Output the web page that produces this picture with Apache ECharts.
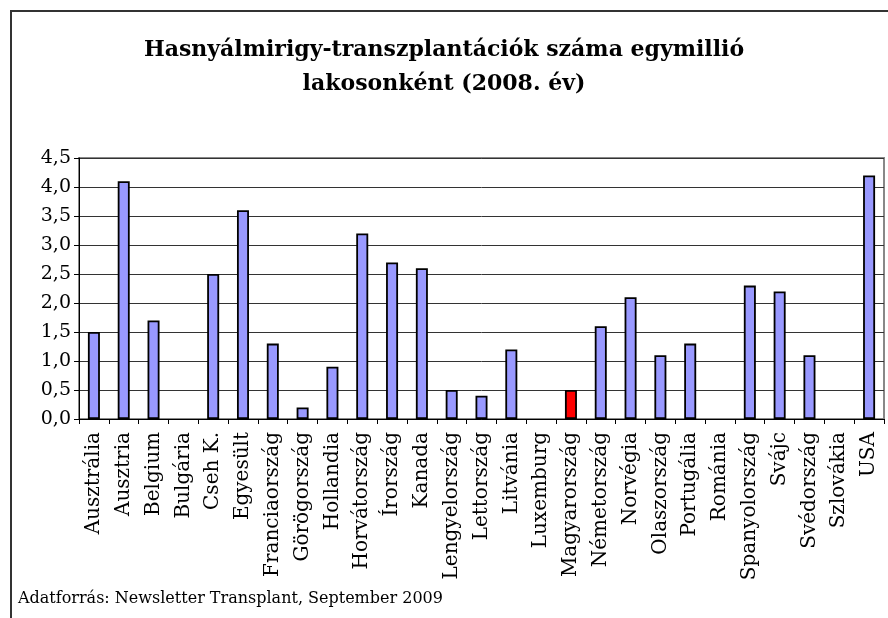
<!DOCTYPE html>
<html>
<head>
<meta charset="utf-8">
<script src="https://cdn.jsdelivr.net/npm/echarts@6/dist/echarts.min.js"></script>
<style>
  html, body { margin: 0; padding: 0; background: #fff; }
  #main { width: 888px; height: 618px; }
</style>
</head>
<body>
<div id="main"></div>
<script>
// orszagok
var orszagok = ['Ausztrália', 'Ausztria', 'Belgium', 'Bulgária', 'Cseh K.', 'Egyesült',
    'Franciaország', 'Görögország', 'Hollandia', 'Horvátország', 'Írország', 'Kanada',
    'Lengyelország', 'Lettország', 'Litvánia', 'Luxemburg', 'Magyarország', 'Németország',
    'Norvégia', 'Olaszország', 'Portugália', 'Románia', 'Spanyolország', 'Svájc',
    'Svédország', 'Szlovákia', 'USA'];

// transzplantaciok / millio lakos
var ertekek = [1.5, 4.1, 1.7, 0, 2.5, 3.6,
    1.3, 0.2, 0.9, 3.2, 2.7, 2.6,
    0.5, 0.4, 1.2, 0, 0.5, 1.6,
    2.1, 1.1, 1.3, 0, 2.3, 2.2,
    1.1, 0, 4.2];

var kiemelt = 'Magyarország';

var myChart = echarts.init(document.getElementById('main'));

var adatok = [];
for (var i = 0; i < orszagok.length; i++) {
    adatok.push({
        value: ertekek[i],
        itemStyle: {
            color: orszagok[i] === kiemelt ? '#FF0000' : '#9999FF',
            borderWidth: ertekek[i] > 0 ? 1.8 : 0
        }
    });
}

var serif = 'DejaVu Serif';

var option = {
    animation: false,
    backgroundColor: '#fff',
    title: {
        text: 'Hasnyálmirigy-transzplantációk száma egymillió\nlakosonként (2008. év)',
        left: 'center',
        top: 28,
        textStyle: {
            fontFamily: serif,
            fontWeight: 'bold',
            fontSize: 22,
            lineHeight: 34,
            color: '#000'
        }
    },
    grid: {
        left: 79,
        right: 4,
        top: 158,
        bottom: 199,
        show: true,
        borderColor: '#888',
        borderWidth: 2
    },
    xAxis: {
        type: 'category',
        data: orszagok,
        axisLine: { lineStyle: { color: '#000', width: 1 } },
        axisTick: { show: true, length: 5, lineStyle: { color: '#000' } },
        axisLabel: {
            interval: 0,
            rotate: 90,
            margin: 13,
            fontFamily: serif,
            fontSize: 20,
            color: '#000'
        }
    },
    yAxis: {
        type: 'value',
        min: 0,
        max: 4.5,
        interval: 0.5,
        axisLine: { show: true, lineStyle: { color: '#000', width: 1 } },
        axisTick: { show: true, length: 5, lineStyle: { color: '#000' } },
        axisLabel: {
            margin: 8,
            fontFamily: serif,
            fontSize: 19,
            color: '#000',
            formatter: function (v) { return v.toFixed(1).replace('.', ','); }
        },
        splitLine: { show: true, lineStyle: { color: '#333', width: 1 } }
    },
    series: [{
        type: 'bar',
        data: adatok,
        barWidth: 12,
        itemStyle: { borderColor: '#000' }
    }],
    graphic: [
        {
            type: 'polyline',
            shape: { points: [[11, 620], [11, 11], [890, 11]] },
            style: { stroke: '#333', lineWidth: 2, fill: null }
        },
        {
            type: 'text',
            left: 18,
            top: 591,
            style: {
                text: 'Adatforrás: Newsletter Transplant, September 2009',
                fontFamily: serif,
                fontSize: 16,
                fill: '#000'
            }
        }
    ]
};

myChart.setOption(option);
</script>
</body>
</html>
